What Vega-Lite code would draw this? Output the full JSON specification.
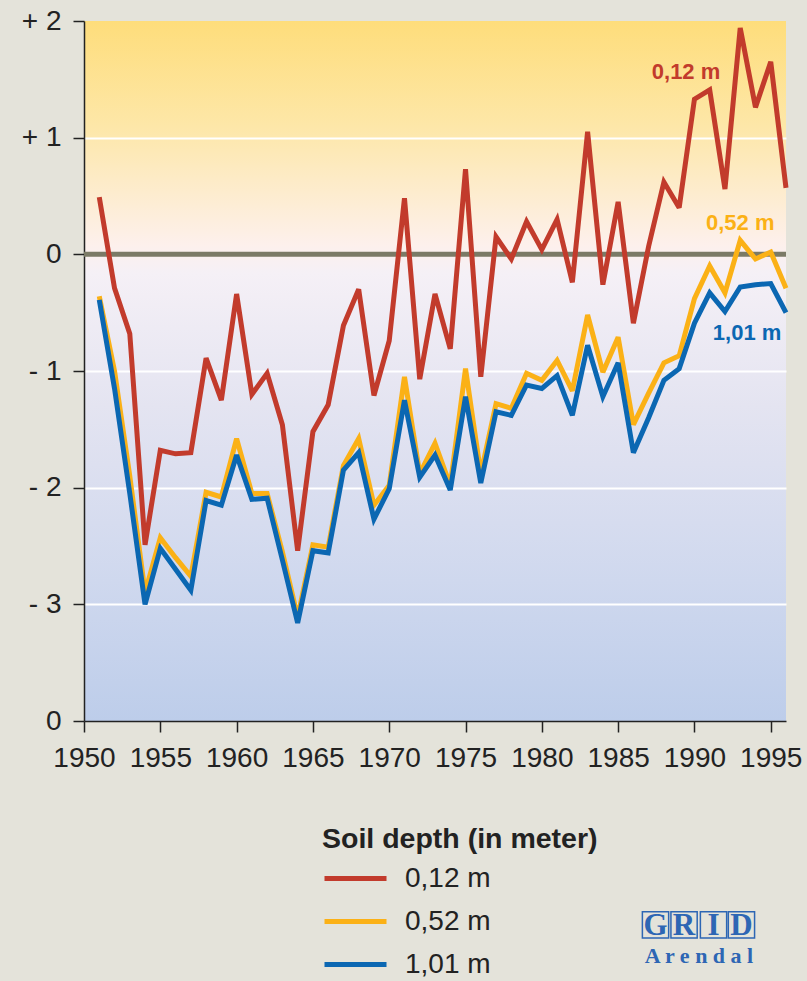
{
  "$schema": "https://vega.github.io/schema/vega-lite/v6.json",
  "width": 702,
  "height": 700,
  "autosize": {"type": "none"},
  "padding": {"left": 84, "top": 21, "right": 21, "bottom": 260},
  "background": "#e4e3da",
  "view": {
    "stroke": null,
    "fill": {
      "gradient": "linear",
      "x1": 0, "y1": 0, "x2": 0, "y2": 1,
      "stops": [
        {"offset": 0, "color": "#fedd7b"},
        {"offset": 0.15, "color": "#fde7a8"},
        {"offset": 0.32, "color": "#fdf0ec"},
        {"offset": 0.36, "color": "#f5f0f6"},
        {"offset": 0.55, "color": "#e4e4f1"},
        {"offset": 0.8, "color": "#cfd8ee"},
        {"offset": 1, "color": "#bdcdea"}
      ]
    }
  },
  "config": {
    "font": "Liberation Sans",
    "axis": {
      "domainColor": "#222222",
      "domainWidth": 1.5,
      "tickColor": "#222222",
      "tickWidth": 1.5,
      "tickSize": 11,
      "labelColor": "#222222",
      "labelFont": "Liberation Sans",
      "labelFontSize": 28,
      "title": null
    }
  },
  "datasets": {
    "series": [
      {"year": 1951, "depth": "0,12 m", "value": 0.49},
      {"year": 1952, "depth": "0,12 m", "value": -0.29},
      {"year": 1953, "depth": "0,12 m", "value": -0.68},
      {"year": 1954, "depth": "0,12 m", "value": -2.49},
      {"year": 1955, "depth": "0,12 m", "value": -1.68},
      {"year": 1956, "depth": "0,12 m", "value": -1.71},
      {"year": 1957, "depth": "0,12 m", "value": -1.70},
      {"year": 1958, "depth": "0,12 m", "value": -0.89},
      {"year": 1959, "depth": "0,12 m", "value": -1.25},
      {"year": 1960, "depth": "0,12 m", "value": -0.34},
      {"year": 1961, "depth": "0,12 m", "value": -1.20},
      {"year": 1962, "depth": "0,12 m", "value": -1.02},
      {"year": 1963, "depth": "0,12 m", "value": -1.46},
      {"year": 1964, "depth": "0,12 m", "value": -2.54},
      {"year": 1965, "depth": "0,12 m", "value": -1.52},
      {"year": 1966, "depth": "0,12 m", "value": -1.29},
      {"year": 1967, "depth": "0,12 m", "value": -0.61},
      {"year": 1968, "depth": "0,12 m", "value": -0.30},
      {"year": 1969, "depth": "0,12 m", "value": -1.21},
      {"year": 1970, "depth": "0,12 m", "value": -0.74},
      {"year": 1971, "depth": "0,12 m", "value": 0.48},
      {"year": 1972, "depth": "0,12 m", "value": -1.07},
      {"year": 1973, "depth": "0,12 m", "value": -0.34},
      {"year": 1974, "depth": "0,12 m", "value": -0.81},
      {"year": 1975, "depth": "0,12 m", "value": 0.73},
      {"year": 1976, "depth": "0,12 m", "value": -1.05},
      {"year": 1977, "depth": "0,12 m", "value": 0.15},
      {"year": 1978, "depth": "0,12 m", "value": -0.04},
      {"year": 1979, "depth": "0,12 m", "value": 0.28},
      {"year": 1980, "depth": "0,12 m", "value": 0.04},
      {"year": 1981, "depth": "0,12 m", "value": 0.30},
      {"year": 1982, "depth": "0,12 m", "value": -0.24},
      {"year": 1983, "depth": "0,12 m", "value": 1.05},
      {"year": 1984, "depth": "0,12 m", "value": -0.26},
      {"year": 1985, "depth": "0,12 m", "value": 0.45},
      {"year": 1986, "depth": "0,12 m", "value": -0.59},
      {"year": 1987, "depth": "0,12 m", "value": 0.07},
      {"year": 1988, "depth": "0,12 m", "value": 0.62},
      {"year": 1989, "depth": "0,12 m", "value": 0.40},
      {"year": 1990, "depth": "0,12 m", "value": 1.33},
      {"year": 1991, "depth": "0,12 m", "value": 1.41},
      {"year": 1992, "depth": "0,12 m", "value": 0.56},
      {"year": 1993, "depth": "0,12 m", "value": 1.94},
      {"year": 1994, "depth": "0,12 m", "value": 1.26},
      {"year": 1995, "depth": "0,12 m", "value": 1.65},
      {"year": 1996, "depth": "0,12 m", "value": 0.57},
      {"year": 1951, "depth": "0,52 m", "value": -0.36},
      {"year": 1952, "depth": "0,52 m", "value": -1.00},
      {"year": 1953, "depth": "0,52 m", "value": -1.90},
      {"year": 1954, "depth": "0,52 m", "value": -2.90},
      {"year": 1955, "depth": "0,52 m", "value": -2.43},
      {"year": 1956, "depth": "0,52 m", "value": -2.60},
      {"year": 1957, "depth": "0,52 m", "value": -2.76},
      {"year": 1958, "depth": "0,52 m", "value": -2.04},
      {"year": 1959, "depth": "0,52 m", "value": -2.08},
      {"year": 1960, "depth": "0,52 m", "value": -1.58},
      {"year": 1961, "depth": "0,52 m", "value": -2.05},
      {"year": 1962, "depth": "0,52 m", "value": -2.05},
      {"year": 1963, "depth": "0,52 m", "value": -2.55},
      {"year": 1964, "depth": "0,52 m", "value": -3.11},
      {"year": 1965, "depth": "0,52 m", "value": -2.49},
      {"year": 1966, "depth": "0,52 m", "value": -2.51},
      {"year": 1967, "depth": "0,52 m", "value": -1.81},
      {"year": 1968, "depth": "0,52 m", "value": -1.58},
      {"year": 1969, "depth": "0,52 m", "value": -2.15},
      {"year": 1970, "depth": "0,52 m", "value": -1.98},
      {"year": 1971, "depth": "0,52 m", "value": -1.05},
      {"year": 1972, "depth": "0,52 m", "value": -1.88},
      {"year": 1973, "depth": "0,52 m", "value": -1.62},
      {"year": 1974, "depth": "0,52 m", "value": -1.98},
      {"year": 1975, "depth": "0,52 m", "value": -0.98},
      {"year": 1976, "depth": "0,52 m", "value": -1.88},
      {"year": 1977, "depth": "0,52 m", "value": -1.28},
      {"year": 1978, "depth": "0,52 m", "value": -1.32},
      {"year": 1979, "depth": "0,52 m", "value": -1.02},
      {"year": 1980, "depth": "0,52 m", "value": -1.08},
      {"year": 1981, "depth": "0,52 m", "value": -0.91},
      {"year": 1982, "depth": "0,52 m", "value": -1.17},
      {"year": 1983, "depth": "0,52 m", "value": -0.52},
      {"year": 1984, "depth": "0,52 m", "value": -1.01},
      {"year": 1985, "depth": "0,52 m", "value": -0.71},
      {"year": 1986, "depth": "0,52 m", "value": -1.46},
      {"year": 1987, "depth": "0,52 m", "value": -1.19},
      {"year": 1988, "depth": "0,52 m", "value": -0.93},
      {"year": 1989, "depth": "0,52 m", "value": -0.87},
      {"year": 1990, "depth": "0,52 m", "value": -0.38},
      {"year": 1991, "depth": "0,52 m", "value": -0.10},
      {"year": 1992, "depth": "0,52 m", "value": -0.33},
      {"year": 1993, "depth": "0,52 m", "value": 0.12},
      {"year": 1994, "depth": "0,52 m", "value": -0.04},
      {"year": 1995, "depth": "0,52 m", "value": 0.02},
      {"year": 1996, "depth": "0,52 m", "value": -0.29},
      {"year": 1951, "depth": "1,01 m", "value": -0.39},
      {"year": 1952, "depth": "1,01 m", "value": -1.15},
      {"year": 1953, "depth": "1,01 m", "value": -2.05},
      {"year": 1954, "depth": "1,01 m", "value": -3.00},
      {"year": 1955, "depth": "1,01 m", "value": -2.52},
      {"year": 1956, "depth": "1,01 m", "value": -2.70},
      {"year": 1957, "depth": "1,01 m", "value": -2.88},
      {"year": 1958, "depth": "1,01 m", "value": -2.11},
      {"year": 1959, "depth": "1,01 m", "value": -2.15},
      {"year": 1960, "depth": "1,01 m", "value": -1.72},
      {"year": 1961, "depth": "1,01 m", "value": -2.10},
      {"year": 1962, "depth": "1,01 m", "value": -2.09},
      {"year": 1963, "depth": "1,01 m", "value": -2.62},
      {"year": 1964, "depth": "1,01 m", "value": -3.16},
      {"year": 1965, "depth": "1,01 m", "value": -2.54},
      {"year": 1966, "depth": "1,01 m", "value": -2.56},
      {"year": 1967, "depth": "1,01 m", "value": -1.85},
      {"year": 1968, "depth": "1,01 m", "value": -1.70},
      {"year": 1969, "depth": "1,01 m", "value": -2.27},
      {"year": 1970, "depth": "1,01 m", "value": -2.01},
      {"year": 1971, "depth": "1,01 m", "value": -1.25},
      {"year": 1972, "depth": "1,01 m", "value": -1.91},
      {"year": 1973, "depth": "1,01 m", "value": -1.72},
      {"year": 1974, "depth": "1,01 m", "value": -2.02},
      {"year": 1975, "depth": "1,01 m", "value": -1.22},
      {"year": 1976, "depth": "1,01 m", "value": -1.96},
      {"year": 1977, "depth": "1,01 m", "value": -1.35},
      {"year": 1978, "depth": "1,01 m", "value": -1.38},
      {"year": 1979, "depth": "1,01 m", "value": -1.12},
      {"year": 1980, "depth": "1,01 m", "value": -1.15},
      {"year": 1981, "depth": "1,01 m", "value": -1.04},
      {"year": 1982, "depth": "1,01 m", "value": -1.38},
      {"year": 1983, "depth": "1,01 m", "value": -0.78},
      {"year": 1984, "depth": "1,01 m", "value": -1.22},
      {"year": 1985, "depth": "1,01 m", "value": -0.93},
      {"year": 1986, "depth": "1,01 m", "value": -1.70},
      {"year": 1987, "depth": "1,01 m", "value": -1.40},
      {"year": 1988, "depth": "1,01 m", "value": -1.08},
      {"year": 1989, "depth": "1,01 m", "value": -0.98},
      {"year": 1990, "depth": "1,01 m", "value": -0.59},
      {"year": 1991, "depth": "1,01 m", "value": -0.33},
      {"year": 1992, "depth": "1,01 m", "value": -0.49},
      {"year": 1993, "depth": "1,01 m", "value": -0.28},
      {"year": 1994, "depth": "1,01 m", "value": -0.26},
      {"year": 1995, "depth": "1,01 m", "value": -0.25},
      {"year": 1996, "depth": "1,01 m", "value": -0.50}
    ],
    "labels": [
      {"year": 1989.45, "value": 1.56, "depth": "0,12 m"},
      {"year": 1993.0, "value": 0.27, "depth": "0,52 m"},
      {"year": 1993.45, "value": -0.67, "depth": "1,01 m"}
    ],
    "logoLetters": [
      {"year": 1987.45, "value": -5.747, "text": "G"},
      {"year": 1989.32, "value": -5.747, "text": "R"},
      {"year": 1991.25, "value": -5.747, "text": "I"},
      {"year": 1993.08, "value": -5.747, "text": "D"}
    ],
    "logoName": [
      {"year": 1990.3, "value": -6.01, "text": "A r e n d a l"}
    ],
    "zero": [{"level": 0}]
  },
  "encoding": {
    "x": {
      "field": "year", "type": "quantitative",
      "scale": {"domain": [1950, 1996], "nice": false, "zero": false},
      "axis": {
        "values": [1950, 1955, 1960, 1965, 1970, 1975, 1980, 1985, 1990, 1995],
        "format": "d",
        "labelPadding": 12,
        "grid": false,
        "labelFlush": false,
        "labelOverlap": false
      }
    },
    "y": {
      "field": "value", "type": "quantitative",
      "scale": {"domain": [-4, 2], "nice": false, "zero": false},
      "axis": {
        "values": [-4, -3, -2, -1, 0, 1, 2],
        "labelExpr": "datum.value > 0 ? '+ ' + datum.value : (datum.value < 0 && datum.value > -4 ? '- ' + abs(datum.value) : '0')",
        "labelPadding": 12,
        "grid": true,
        "gridColor": "#ffffff",
        "gridWidth": 2,
        "gridOpacity": {"condition": {"test": "datum.value == 2 || datum.value == 0 || datum.value == -4", "value": 0}, "value": 1},
        "labelFlush": false,
        "labelOverlap": false
      }
    }
  },
  "layer": [
    {
      "data": {"name": "zero"},
      "mark": {"type": "rule", "color": "#7b7a66", "strokeWidth": 5},
      "encoding": {
        "x": null,
        "y": {"field": "level", "type": "quantitative"}
      }
    },
    {
      "data": {"name": "series"},
      "mark": {"type": "line", "strokeWidth": 5, "strokeJoin": "miter", "strokeMiterLimit": 3},
      "encoding": {
        "color": {
          "field": "depth", "type": "nominal",
          "scale": {"domain": ["0,12 m", "0,52 m", "1,01 m"], "range": ["#c23b2c", "#fbb116", "#0b67b2"]},
          "legend": {
            "title": "Soil depth (in meter)",
            "orient": "none",
            "legendX": 238,
            "legendY": 804,
            "titleFont": "Liberation Sans",
            "titleFontSize": 28.5,
            "titleFontWeight": "bold",
            "titleColor": "#222222",
            "titlePadding": 10,
            "titleLimit": 0,
            "labelLimit": 0,
            "labelFont": "Liberation Sans",
            "labelFontSize": 28,
            "labelColor": "#222222",
            "labelOffset": 16,
            "symbolType": "stroke",
            "symbolSize": 3844,
            "symbolStrokeWidth": 5,
            "clipHeight": 30,
            "rowPadding": 13
          }
        },
        "order": {"field": "depth", "sort": "descending"}
      }
    },
    {
      "data": {"name": "labels"},
      "mark": {"type": "text", "font": "Liberation Sans", "fontSize": 22, "fontWeight": "bold", "align": "center", "baseline": "middle"},
      "encoding": {
        "text": {"field": "depth"},
        "color": {"field": "depth", "type": "nominal", "legend": null}
      }
    },
    {
      "data": {"name": "logoLetters"},
      "mark": {"type": "point", "shape": "square", "size": 690, "filled": false, "stroke": "#2d66b4", "strokeWidth": 1.5, "opacity": 1, "clip": false},
      "encoding": {}
    },
    {
      "data": {"name": "logoLetters"},
      "mark": {"type": "text", "font": "Liberation Serif", "fontWeight": "bold", "fontSize": 31, "color": "#2d66b4", "align": "center", "baseline": "middle", "dy": 1, "clip": false},
      "encoding": {"text": {"field": "text"}}
    },
    {
      "data": {"name": "logoName"},
      "mark": {"type": "text", "font": "Liberation Serif", "fontWeight": "bold", "fontSize": 22, "color": "#2d66b4", "align": "center", "baseline": "middle", "clip": false},
      "encoding": {"text": {"field": "text"}}
    }
  ]
}
